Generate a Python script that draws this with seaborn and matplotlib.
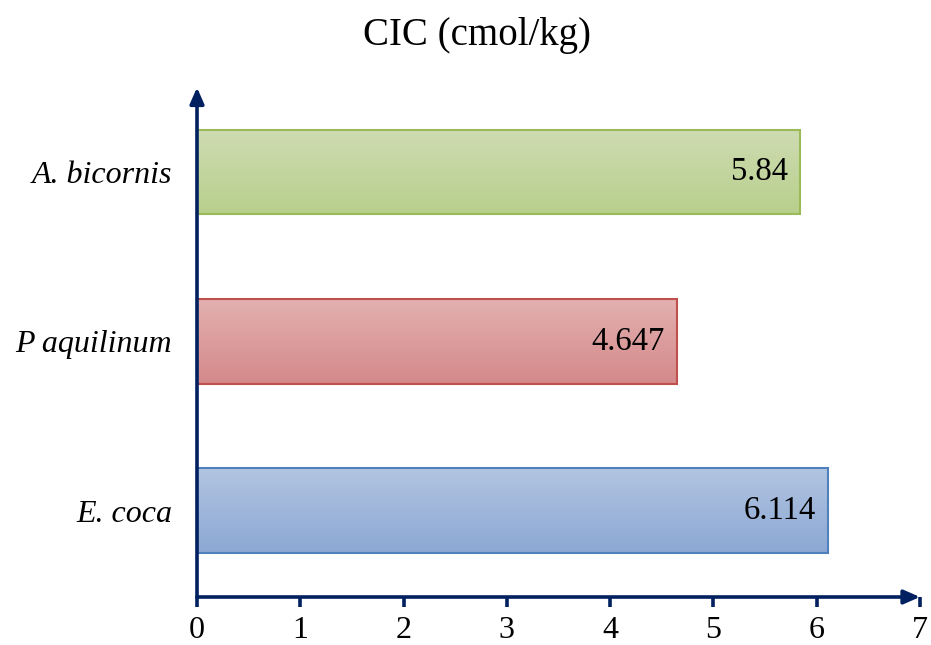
import numpy as np
import pandas as pd
import matplotlib
matplotlib.use("Agg")
import matplotlib.pyplot as plt
import seaborn as sns
from matplotlib.colors import LinearSegmentedColormap

categories = ["A. bicornis", "P aquilinum", "E. coca"]
values = [5.84, 4.647, 6.114]
value_labels = ["5.84", "4.647", "6.114"]
x_ticks = [0, 1, 2, 3, 4, 5, 6, 7]

top_colors = ["#cedcb2", "#e3b0b0", "#b2c4e1"]
bottom_colors = ["#b8cf8c", "#d5898a", "#8ca8d4"]
edge_colors = ["#9bbb59", "#c0504d", "#4f81bd"]

sns.set_theme(style="white")
plt.rcParams["font.family"] = ["Liberation Serif", "DejaVu Serif"]

df = pd.DataFrame({"species": categories, "cic": values})

fig = plt.figure(figsize=(9.31, 6.45), dpi=100)
ax = fig.add_axes([197 / 931, 1 - 597 / 645, (920 - 197) / 931, (597 - 95) / 645])

sns.barplot(data=df, x="cic", y="species", order=categories, ax=ax,
            width=0.5, palette=edge_colors, hue="species", legend=False,
            saturation=1)

ax.set_xlim(0, 7)
ax.set_ylim(2.509, -0.455)

for i, patch in enumerate(ax.patches):
    patch.set_facecolor("none")
    patch.set_edgecolor(edge_colors[i])
    patch.set_linewidth(1.5)
    patch.set_zorder(3)
    x0, y0 = patch.get_x(), patch.get_y()
    w, h = patch.get_width(), patch.get_height()
    cmap = LinearSegmentedColormap.from_list("g", [top_colors[i], bottom_colors[i]])
    grad = np.linspace(0, 1, 100).reshape(-1, 1)
    ax.imshow(grad, cmap=cmap, aspect="auto",
              extent=(x0, x0 + w, y0 + h, y0), origin="upper", zorder=2)
    ax.text(values[i] - 0.12, i, value_labels[i], ha="right", va="center",
            fontsize=23.5, color="black", zorder=4)

ax.set_xlim(0, 7)
ax.set_ylim(2.509, -0.455)

for s in ax.spines.values():
    s.set_visible(False)

navy = "#002060"
ax.annotate("", xy=(1.0, 0), xytext=(0, 0), xycoords="axes fraction",
            arrowprops=dict(arrowstyle="-|>,head_length=0.8,head_width=0.35",
                            color=navy, lw=2.6, shrinkA=0, shrinkB=0),
            annotation_clip=False)
ax.annotate("", xy=(0, 1.015), xytext=(0, 0), xycoords="axes fraction",
            arrowprops=dict(arrowstyle="-|>,head_length=0.8,head_width=0.35",
                            color=navy, lw=2.6, shrinkA=0, shrinkB=0),
            annotation_clip=False)

ax.set_xticks(x_ticks)
ax.set_xticklabels([str(t) for t in x_ticks], fontsize=23)
ax.tick_params(axis="x", direction="out", length=7, width=2.6, color=navy,
               bottom=True, pad=7)
ax.tick_params(axis="y", length=0, pad=18)
ax.set_yticks(range(len(categories)))
ax.set_yticklabels(categories, fontsize=23, style="italic")
for t in ax.get_xticklabels() + ax.get_yticklabels():
    t.set_color("black")

ax.set_xlabel("")
ax.set_ylabel("")
ax.grid(False)

fig.text(477 / 931, 1 - 35 / 645, "CIC (cmol/kg)", ha="center", va="center",
         fontsize=28, color="black")

fig.savefig("out.png", dpi=100, facecolor="white")
